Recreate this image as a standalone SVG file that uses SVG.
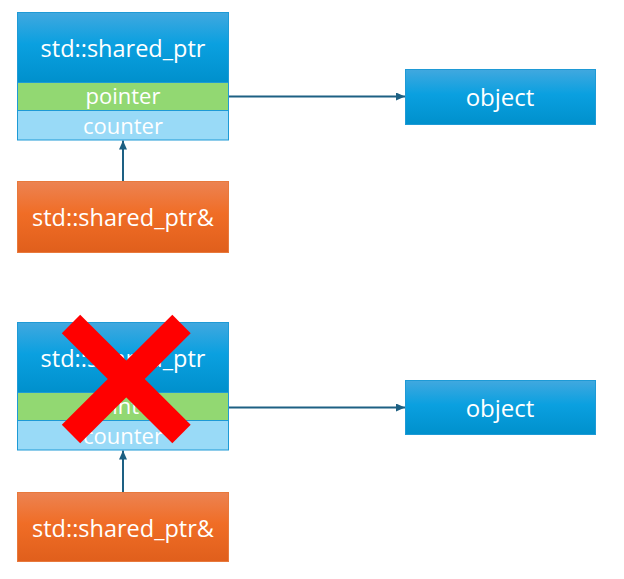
<svg xmlns="http://www.w3.org/2000/svg" width="624" height="579" viewBox="0 0 624 579">
<defs>
<linearGradient id="gBlue" x1="0" y1="0" x2="0" y2="1">
<stop offset="0" stop-color="#41a8df"/><stop offset="0.45" stop-color="#0aa0e0"/><stop offset="1" stop-color="#0090cc"/>
</linearGradient>
<linearGradient id="gOrange" x1="0" y1="0" x2="0" y2="1">
<stop offset="0" stop-color="#ec8352"/><stop offset="0.45" stop-color="#f06d26"/><stop offset="1" stop-color="#e05f1c"/>
</linearGradient>
<marker id="arr" markerWidth="9" markerHeight="8" refX="9" refY="4" orient="auto" markerUnits="userSpaceOnUse">
<path d="M0,0 L9,4 L0,8 Z" fill="#1d6083"/>
</marker>
</defs>
<style>
.blue{fill:url(#gBlue);stroke:#1e9ad6;stroke-width:1}
.orange{fill:url(#gOrange);stroke:#e8793c;stroke-width:1}
.green{fill:#92d872;stroke:#1e9ad6;stroke-width:1}
.lblue{fill:#99daf7;stroke:#1e9ad6;stroke-width:1}
.t{font-family:"Open Sans","Noto Sans",sans-serif;fill:#ffffff;text-anchor:middle}
.big{font-size:23.5px}
.small{font-size:22px}
.obj{font-size:24px}
.conn{stroke:#1d6083;stroke-width:2;fill:none;marker-end:url(#arr)}
.x{stroke:#ff0000;stroke-width:26;stroke-linecap:butt}
</style>
<g id="connectors">
<line class="conn" x1="228" y1="96.5" x2="405" y2="96.5"/>
<line class="conn" x1="123" y1="181" x2="123" y2="140.5"/>
<line class="conn" x1="228" y1="407.5" x2="405" y2="407.5"/>
<line class="conn" x1="123" y1="492" x2="123" y2="450.5"/>
</g>
<g id="shared_ptr_top">
<rect class="blue" x="17.5" y="12.5" width="211" height="70"/>
<rect class="green" x="17.5" y="82.5" width="211" height="28"/>
<rect class="lblue" x="17.5" y="110.5" width="211" height="29.5"/>
<text class="t big" x="123" y="57">std::shared_ptr</text>
<text class="t small" x="123" y="104">pointer</text>
<text class="t small" x="123" y="134">counter</text>
</g>
<g id="ref_top">
<rect class="orange" x="17.5" y="181.5" width="211" height="71"/>
<text class="t big" x="123" y="226">std::shared_ptr&amp;</text>
</g>
<g id="object_top">
<rect class="blue" x="405.5" y="69.5" width="190" height="55"/>
<text class="t obj" x="500" y="106">object</text>
</g>
<g id="shared_ptr_bottom">
<rect class="blue" x="17.5" y="322.5" width="211" height="70"/>
<rect class="green" x="17.5" y="392.5" width="211" height="28"/>
<rect class="lblue" x="17.5" y="420.5" width="211" height="29.5"/>
<text class="t big" x="123" y="367">std::shared_ptr</text>
<text class="t small" x="123" y="414">pointer</text>
<text class="t small" x="123" y="444">counter</text>
</g>
<g id="ref_bottom">
<rect class="orange" x="17.5" y="492.5" width="211" height="69"/>
<text class="t big" x="123" y="537">std::shared_ptr&amp;</text>
</g>
<g id="object_bottom">
<rect class="blue" x="405.5" y="380.5" width="190" height="54"/>
<text class="t obj" x="500" y="417">object</text>
</g>
<g id="cross">
<line class="x" x1="71" y1="324" x2="181.5" y2="434"/>
<line class="x" x1="181.5" y1="324" x2="71" y2="434"/>
</g>
</svg>
